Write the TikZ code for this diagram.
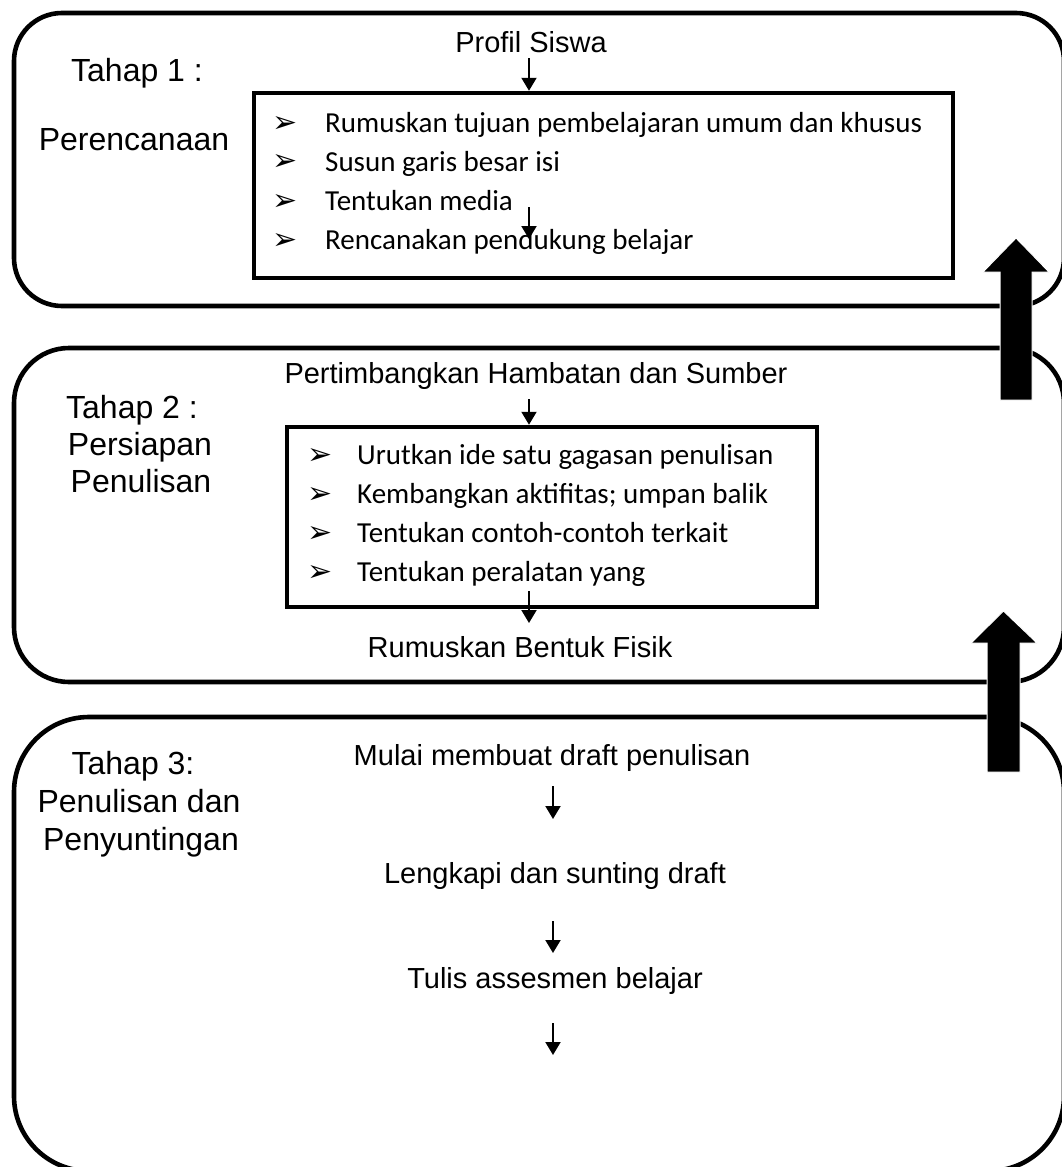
\documentclass[tikz,border=0pt]{standalone}
\usepackage{fontspec}
\setmainfont{Liberation Sans}
\newfontfamily\bodyfont{Carlito}
\newfontfamily\dingfont{DejaVu Sans}
\usetikzlibrary{arrows.meta}

\begin{document}
\begin{tikzpicture}[x=1pt,y=-1pt,
  panel/.style={draw, line width=4.6pt},
  listbox/.style={draw, line width=4.5pt, inner sep=0pt},
  caption/.style={font=\fontsize{29}{35}\selectfont, inner sep=0pt, anchor=base},
  stagelabel/.style={font=\fontsize{32}{38}\selectfont, inner sep=0pt, anchor=base},
  item/.style={font=\bodyfont\fontsize{29}{35}\selectfont, inner sep=0pt, anchor=base west},
  bullet/.style={font=\dingfont\fontsize{30}{36}\selectfont, inner sep=0pt},
  flow/.style={line width=2pt, -{Triangle[width=15pt,length=13pt]}},
  bigarrow/.style={fill=black, draw=white, line width=1pt}
]
\useasboundingbox (0,0) rectangle (1062,1167);
\begin{scope}
\clip (0,0) rectangle (1062,1167);

% three stage panels
\draw[panel, rounded corners=48pt] (14,13) rectangle (1064,306);
\draw[panel, rounded corners=55pt] (14,348) rectangle (1064,682);
\draw[panel, rounded corners=75pt] (14,717) rectangle (1064,1171);

% ---------------- Tahap 1 ----------------
\node[stagelabel] (t1a) at (137,81) {Tahap 1 :};
\node[stagelabel] (t1b) at (134,150) {Perencanaan};
\node[caption] (profil) at (531,52) {Profil Siswa};
\node[listbox, minimum width=699pt, minimum height=185pt] (plan) at (603.5,185.5) {};
\foreach \y/\txt [count=\i] in {132/Rumuskan tujuan pembelajaran umum dan khusus,
                     171/Susun garis besar isi,
                     210/Tentukan media,
                     249/Rencanakan pendukung belajar}{
  \node[bullet] (pb\i) at (285,\y-8) {➢};
  \node[item] (pi\i) at (325,\y) {\txt};
}
\coordinate (a1) at (529,58);
\draw[flow] (a1) -- (a1 |- plan.north);
\coordinate (a2s) at (529,207);
\coordinate (a2e) at (529,239);
\draw[flow] (a2s) -- (a2e);

% ---------------- Tahap 2 ----------------
\node[stagelabel] (t2a) at (132,418) {Tahap 2 :};
\node[stagelabel] (t2b) at (140,455) {Persiapan};
\node[stagelabel] (t2c) at (141,492) {Penulisan};
\node[caption] (hamb) at (536,383) {Pertimbangkan Hambatan dan Sumber};
\node[listbox, minimum width=530pt, minimum height=180pt] (prep) at (552,517) {};
\foreach \y/\txt [count=\i] in {464/Urutkan ide satu gagasan penulisan,
                     503/Kembangkan aktifitas; umpan balik,
                     542/Tentukan contoh-contoh terkait,
                     581/Tentukan peralatan yang}{
  \node[bullet] (qb\i) at (320,\y-8) {➢};
  \node[item] (qi\i) at (357,\y) {\txt};
}
\node[caption] (fisik) at (520,657) {Rumuskan Bentuk Fisik};
\coordinate (a3) at (529,399);
\draw[flow] (a3) -- (a3 |- prep.north);
\coordinate (a4s) at (529,591);
\coordinate (a4e) at (529,623);
\draw[flow] (a4s) -- (a4e);

% ---------------- Tahap 3 ----------------
\node[stagelabel] (t3a) at (133,774) {Tahap 3:};
\node[stagelabel] (t3b) at (139,812) {Penulisan dan};
\node[stagelabel] (t3c) at (141,850) {Penyuntingan};
\node[caption] (draft) at (552,765) {Mulai membuat draft penulisan};
\node[caption] (sunting) at (555,883) {Lengkapi dan sunting draft};
\node[caption] (asses) at (555,988) {Tulis assesmen belajar};
\coordinate (a5s) at (553,786);  \coordinate (a5e) at (553,819);
\coordinate (a6s) at (553,921);  \coordinate (a6e) at (553,953);
\coordinate (a7s) at (553,1023); \coordinate (a7e) at (553,1055);
\draw[flow] (a5s) -- (a5e);
\draw[flow] (a6s) -- (a6e);
\draw[flow] (a7s) -- (a7e);

% upward block arrows between the stages
\draw[bigarrow] (1000,400) -- (1000,272) -- (983,272) -- (1016,238)
  -- (1049,272) -- (1032,272) -- (1032,400) -- cycle;
\draw[bigarrow] (987,772) -- (987,643) -- (971,643) -- (1003.5,611)
  -- (1037,643) -- (1020,643) -- (1020,772) -- cycle;
\end{scope}
\end{tikzpicture}
\end{document}
